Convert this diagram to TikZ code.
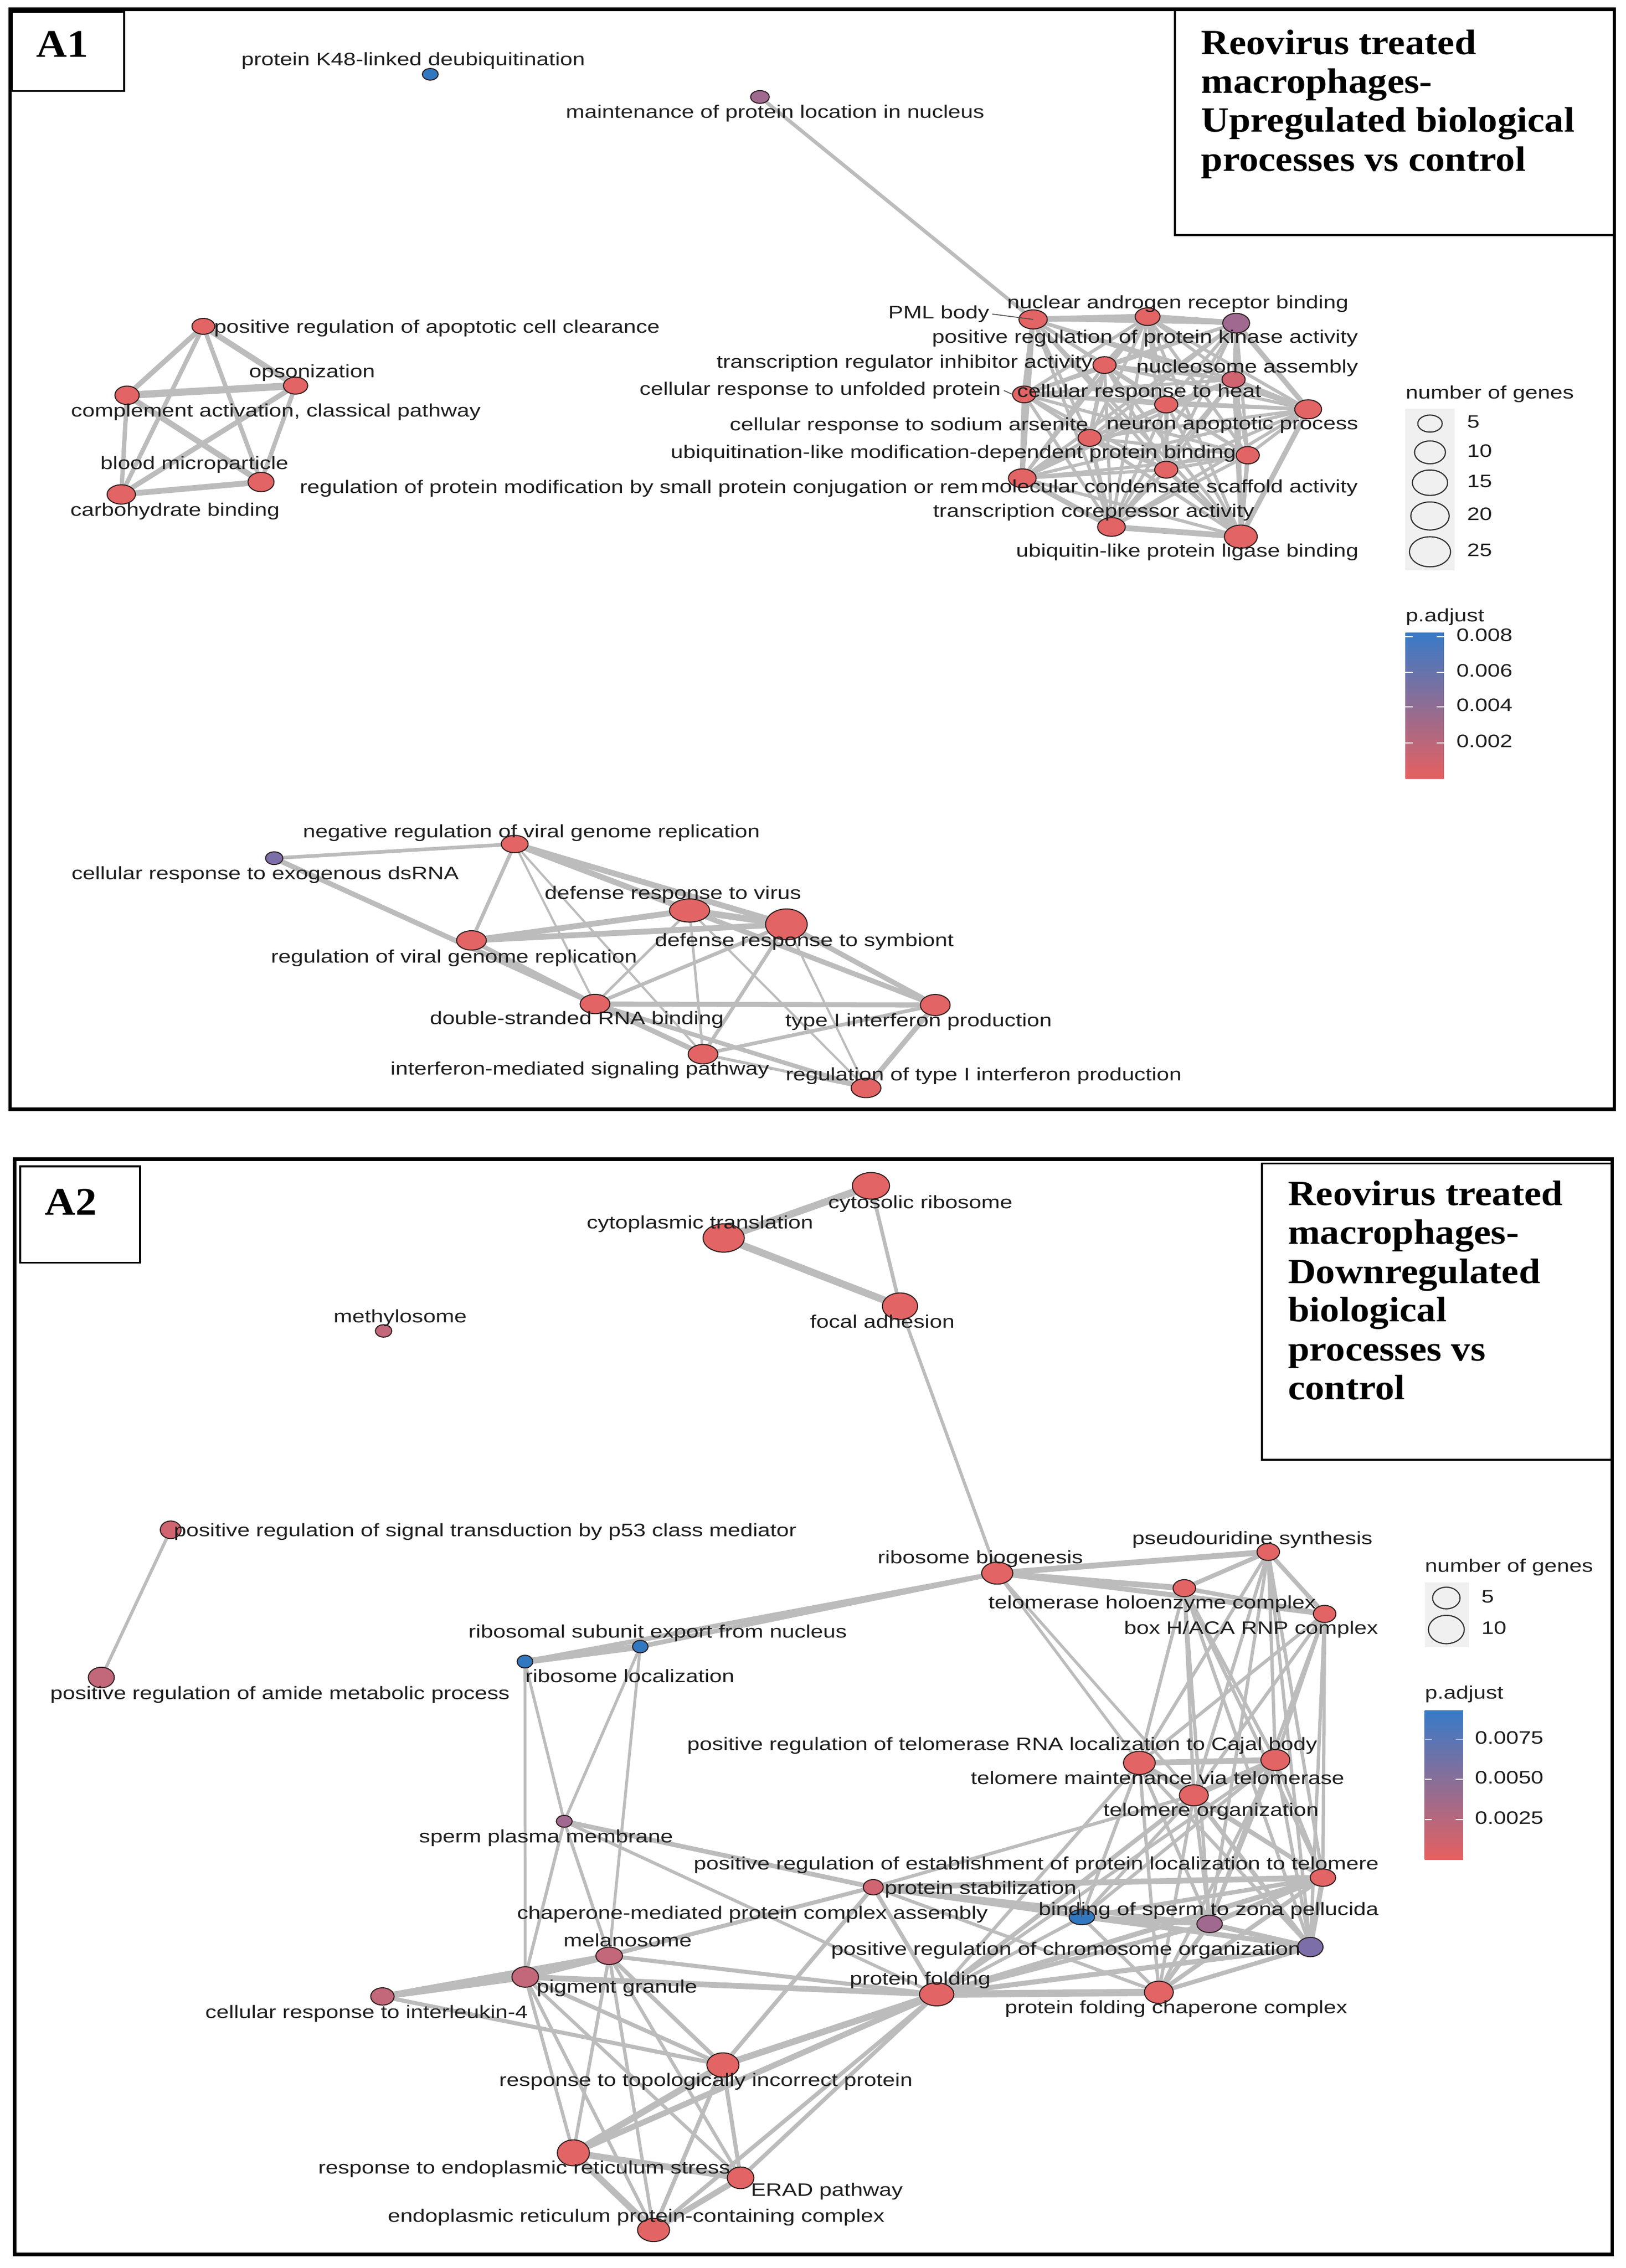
\documentclass[tikz,border=0pt]{standalone}
\usepackage{fontspec}
\newfontfamily\labfont[FakeStretch=1.24]{Liberation Sans}
\newfontfamily\ttlfont[FakeStretch=1.09]{Liberation Serif}
\usetikzlibrary{shapes.geometric}
\pgfdeclarelayer{edgelayer}
\pgfsetlayers{edgelayer,main}
\definecolor{cred}{RGB}{226,100,100}
\definecolor{credp}{RGB}{208,100,112}
\definecolor{cmauve}{RGB}{194,104,122}
\definecolor{cpurp}{RGB}{160,106,144}
\definecolor{cviol}{RGB}{124,110,168}
\definecolor{cblue}{RGB}{50,120,192}
\definecolor{edgegray}{RGB}{188,188,188}
\definecolor{txt}{RGB}{30,30,30}
\definecolor{keybg}{RGB}{240,240,240}
\definecolor{cbtop}{RGB}{56,122,200}
\definecolor{cbmid}{RGB}{152,108,146}
\definecolor{cbbot}{RGB}{230,96,96}
\newcounter{labc}
\newcommand\gn[6]{\node[gnode,fill=#6,minimum width=2*#4pt,minimum height=2*#5pt] (#1) at (#2,#3) {};}
\newcommand\lb[3]{\stepcounter{labc}\node[lab] (lab\thelabc) at (#1,#2) {#3};}
\begin{document}
\begin{tikzpicture}[x=1pt,y=-1pt,
 gnode/.style={ellipse,draw={rgb,255:red,45;green,30;blue,30},line width=0.7pt,inner sep=0pt,outer sep=0pt},
 lab/.style={font=\labfont\fontsize{12.5}{14}\selectfont,text=txt,inner sep=0pt,anchor=mid,yshift=-1.3pt},
 leg/.style={font=\labfont\fontsize{12.5}{14}\selectfont,text=txt,inner sep=0pt,anchor=mid west,yshift=-1pt},
 edge/.style={draw=edgegray,line cap=round},
 ttl/.style={font=\ttlfont\bfseries\fontsize{24.5}{27}\selectfont,inner sep=0pt,anchor=base west},
 plab/.style={font=\ttlfont\bfseries\fontsize{27}{30}\selectfont,inner sep=0pt,anchor=base},
 frame/.style={draw=black,line width=2.4pt},
 lbox/.style={draw=black,line width=1.4pt},
 lead/.style={draw=black!70,line width=0.6pt},
 legell/.style={draw=black!80,line width=0.8pt}]
\useasboundingbox (0,0) rectangle (1125,1569.3);

% ================= A1 nodes =================
\gn{k48}{297.7}{51.4}{5.5}{4.0}{cblue}
\gn{maint}{525.8}{67.1}{6.5}{4.4}{cpurp}
\gn{r1}{714.8}{221.0}{9.8}{6.6}{cred}
\gn{r2}{794.0}{219.1}{8.6}{6.1}{cred}
\gn{r3}{855.3}{223.6}{9.3}{6.8}{cpurp}
\gn{r4}{764.2}{252.6}{8.0}{5.8}{cred}
\gn{r5}{853.5}{262.6}{8.0}{5.6}{credp}
\gn{r6}{708.6}{272.9}{8.0}{5.8}{cred}
\gn{r7}{806.9}{279.9}{8.0}{5.8}{cred}
\gn{r8}{905.1}{283.2}{9.3}{6.6}{cred}
\gn{r9}{753.9}{303.0}{8.0}{5.8}{cred}
\gn{r10}{863.3}{315.0}{8.0}{6.0}{cred}
\gn{r11}{806.9}{325.0}{8.0}{5.8}{cred}
\gn{r12}{707.3}{330.9}{9.6}{6.5}{cred}
\gn{r13}{769.0}{364.6}{9.6}{6.5}{cred}
\gn{r14}{858.5}{371.3}{11.4}{8.0}{cred}
\gn{l1}{140.7}{225.8}{7.9}{5.5}{cred}
\gn{l2}{204.5}{266.8}{8.4}{5.9}{cred}
\gn{l3}{87.9}{273.5}{8.4}{6.4}{cred}
\gn{l4}{180.6}{333.5}{9.0}{6.7}{cred}
\gn{l5}{83.9}{342.1}{9.8}{6.7}{cred}
\gn{b1}{356.1}{584.0}{9.3}{6.0}{cred}
\gn{b2}{189.7}{593.8}{6.0}{4.4}{cviol}
\gn{b3}{477.1}{630.0}{13.9}{8.0}{cred}
\gn{b4}{544.1}{639.6}{14.4}{10.7}{cred}
\gn{b5}{326.2}{650.7}{10.3}{6.7}{cred}
\gn{b6}{411.7}{694.7}{10.3}{6.7}{cred}
\gn{b7}{647.1}{695.4}{10.3}{7.3}{cred}
\gn{b8}{486.4}{729.4}{10.3}{6.7}{cred}
\gn{b9}{599.2}{752.8}{10.3}{6.7}{cred}

% ================= A2 nodes =================
\gn{c1}{602.6}{820.5}{12.9}{9.2}{cred}
\gn{c2}{500.7}{856.6}{14.3}{9.8}{cred}
\gn{c3}{622.7}{903.8}{12.2}{9.2}{cred}
\gn{meth}{265.4}{920.9}{5.7}{4.3}{cmauve}
\gn{p53}{118.1}{1058.5}{7.2}{6.1}{credp}
\gn{amide}{70.1}{1160.7}{9.0}{7.1}{cmauve}
\gn{rbio}{690.0}{1088.5}{10.8}{7.6}{cred}
\gn{pseudo}{877.5}{1073.8}{7.8}{5.9}{cred}
\gn{tholo}{819.4}{1098.9}{7.8}{5.9}{cred}
\gn{hbox}{916.5}{1116.7}{7.8}{5.9}{cred}
\gn{rexp}{443.0}{1139.3}{5.4}{4.3}{cblue}
\gn{rloc}{363.2}{1149.7}{5.4}{4.4}{cblue}
\gn{t1}{788.3}{1219.8}{11.0}{8.0}{cred}
\gn{t2}{882.4}{1217.8}{10.0}{7.3}{cred}
\gn{torg}{826.0}{1242.2}{10.0}{7.3}{cred}
\gn{estab}{915.3}{1299.2}{8.8}{6.0}{cred}
\gn{stab}{604.2}{1305.8}{6.9}{5.3}{credp}
\gn{bind}{748.5}{1326.5}{8.8}{5.3}{cblue}
\gn{purp}{836.9}{1331.2}{8.8}{6.0}{cpurp}
\gn{chromo}{906.6}{1347.2}{8.8}{6.7}{cviol}
\gn{pfold}{648.1}{1379.9}{11.9}{8.0}{cred}
\gn{pfcc}{801.8}{1378.5}{10.0}{7.7}{cred}
\gn{sperm}{390.4}{1260.2}{5.5}{4.1}{cpurp}
\gn{melan}{421.5}{1353.3}{9.2}{6.0}{cmauve}
\gn{pigm}{363.4}{1367.9}{9.2}{7.1}{cmauve}
\gn{il4}{264.6}{1381.4}{8.1}{6.0}{cmauve}
\gn{topo}{500.2}{1428.8}{11.1}{8.4}{cred}
\gn{erstress}{396.7}{1489.6}{11.1}{9.0}{cred}
\gn{erad}{512.4}{1506.9}{9.2}{7.5}{cred}
\gn{ercomp}{452.2}{1543.0}{11.1}{8.0}{cred}

% ================= edges =================
\begin{pgfonlayer}{edgelayer}
\fill[white] (0,0) rectangle (1125,1569.3);
\draw[edge,line width=2.5pt] (maint.center) -- (r1.center);
\foreach \i in {1,...,13}{\pgfmathtruncatemacro\ip{\i+1}\foreach \j in {\ip,...,14}{\draw[edge,line width=2.2pt] (r\i.center) -- (r\j.center);}}
\foreach \a/\b/\w in {r1/r2/4,r2/r3/4,r3/r8/3.5,r8/r14/3.5,r14/r13/4,r13/r12/3.5,r12/r6/3.5,r6/r1/3.5,r2/r4/3,r4/r7/3,r7/r11/3,r11/r14/3,r9/r13/3,r10/r14/3,r5/r8/3,r3/r14/3,r1/r12/3,r4/r9/3}
  {\draw[edge,line width=\w pt] (\a.center) -- (\b.center);}
\foreach \a/\b/\w in {l1/l3/3.5,l1/l2/4,l1/l5/3,l1/l4/3,l3/l2/5,l3/l4/4,l3/l5/3,l2/l5/3.5,l2/l4/3,l5/l4/4}
  {\draw[edge,line width=\w pt] (\a.center) -- (\b.center);}
\foreach \a/\b/\w in {b2/b1/2.5,b2/b6/3.5,b5/b6/3,b1/b5/2.5,b1/b3/4,b1/b4/4,b1/b6/1.5,b1/b8/1.5,b5/b3/4,b5/b4/4,b3/b4/4.5,b3/b6/1.8,b3/b8/1.8,b3/b7/3.5,b3/b9/1.5,b4/b6/2.5,b4/b8/2.5,b4/b7/3.5,b4/b9/1.5,b6/b7/3.5,b6/b8/3.5,b6/b9/3,b8/b7/2.5,b8/b9/2,b7/b9/3.5}
  {\draw[edge,line width=\w pt] (\a.center) -- (\b.center);}
\foreach \a/\b/\w in {c1/c2/5,c2/c3/5,c1/c3/2.5,c3/rbio/2.2,p53/amide/2.2,
rloc/rexp/4.5,rloc/rbio/3.2,rexp/rbio/3.2,rloc/sperm/2,rexp/sperm/2,rloc/pigm/2,rexp/melan/2,
rbio/pseudo/4,rbio/tholo/4,rbio/hbox/3.5,pseudo/tholo/3,pseudo/hbox/3,tholo/hbox/3,
rbio/t1/2,rbio/torg/2,
pseudo/t1/2.3,pseudo/t2/2.3,pseudo/torg/2.3,pseudo/estab/2.3,pseudo/chromo/2.3,pseudo/purp/2.3,
tholo/t1/2.3,tholo/t2/2.3,tholo/torg/2.3,tholo/estab/2.3,tholo/chromo/2.3,tholo/purp/2.3,
hbox/t1/2.3,hbox/t2/2.3,hbox/torg/2.3,hbox/estab/2.3,hbox/chromo/2.3,hbox/purp/2.3,
t1/t2/4,t1/torg/4,t2/torg/4,t1/estab/2.3,t2/estab/2.3,torg/estab/3,t1/purp/2.3,t2/purp/2.3,torg/purp/2.3,t1/chromo/2.3,t2/chromo/2.3,torg/chromo/3,t1/pfcc/2.3,t2/pfcc/2.3,torg/pfcc/2.3,t1/bind/2.3,t2/bind/2.3,torg/bind/2.3,
estab/chromo/3.5,estab/purp/3.5,purp/chromo/3.5,bind/purp/3.5,bind/chromo/3,bind/estab/3,pfcc/purp/3,pfcc/chromo/3,pfcc/estab/3,pfcc/bind/2.3,
pfold/pfcc/5,pfold/torg/3,pfold/t1/2.3,pfold/t2/2.3,pfold/estab/3.5,pfold/chromo/3.5,pfold/purp/3,pfold/bind/2.3,
stab/pfold/2.8,stab/estab/4,stab/chromo/3.5,stab/torg/2.3,stab/purp/3,stab/bind/2.3,stab/pfcc/2.3,stab/sperm/3.2,stab/pigm/2.8,stab/melan/2.3,stab/topo/2.8,
sperm/pigm/2.2,sperm/melan/2.2,sperm/pfold/2.2,
pigm/melan/4.5,pigm/il4/4.5,melan/il4/4,il4/topo/2.8,pigm/pfold/4,melan/pfold/2.8,pigm/topo/2.8,melan/topo/2.8,
pigm/erstress/2.3,pigm/erad/2.3,pigm/ercomp/2.3,melan/erstress/2.3,melan/erad/2.3,melan/ercomp/2.3,
topo/erstress/4.5,topo/erad/2.8,topo/ercomp/2.8,erstress/erad/4.5,erstress/ercomp/4.5,erad/ercomp/4,
pfold/topo/4.5,pfold/erstress/4,pfold/erad/2.8,pfold/ercomp/2.8}
  {\draw[edge,line width=\w pt] (\a.center) -- (\b.center);}
\end{pgfonlayer}

% ================= A1 labels =================
\lb{285.9}{41.8}{protein K48-linked deubiquitination}
\lb{536.3}{78.3}{maintenance of protein location in nucleus}
\node[lab,anchor=mid east] (pmllab) at (684.6,217.1) {PML body};
\draw[lead] ([xshift=2pt]pmllab.east) -- (r1.center);
\lb{814.9}{210}{nuclear androgen receptor binding}
\lb{792.2}{233.9}{positive regulation of protein kinase activity}
\lb{625.9}{251.3}{transcription regulator inhibitor activity}
\lb{862.9}{254.5}{nucleosome assembly}
\node[lab,anchor=mid east] (unflab) at (692.6,270) {cellular response to unfolded protein};
\draw[lead] ([xshift=2pt]unflab.east) -- (r6.west);
\lb{788.2}{271.2}{cellular response to heat}
\lb{629}{294.4}{cellular response to sodium arsenite}
\lb{852.7}{293.8}{neuron apoptotic process}
\lb{659.7}{313.7}{ubiquitination-like modification-dependent protein binding}
\lb{442.2}{337.7}{regulation of protein modification by small protein conjugation or rem}
\lb{809.1}{337.6}{molecular condensate scaffold activity}
\lb{756.7}{354.3}{transcription corepressor activity}
\lb{821.5}{382}{ubiquitin-like protein ligase binding}
\lb{302.3}{227}{positive regulation of apoptotic cell clearance}
\lb{215.9}{257.6}{opsonization}
\lb{190.9}{284.9}{complement activation, classical pathway}
\lb{134.5}{321.3}{blood microparticle}
\lb{121.1}{353.7}{carbohydrate binding}
\lb{367.7}{576}{negative regulation of viral genome replication}
\lb{183.5}{605}{cellular response to exogenous dsRNA}
\lb{465.6}{618.7}{defense response to virus}
\lb{556.5}{651.4}{defense response to symbiont}
\lb{314.1}{662.7}{regulation of viral genome replication}
\lb{399.1}{705.4}{double-stranded RNA binding}
\lb{635.6}{706.7}{type I interferon production}
\lb{401.2}{740.1}{interferon-mediated signaling pathway}
\lb{680.6}{744.1}{regulation of type I interferon production}

% ================= A2 labels =================
\lb{636.8}{832.8}{cytosolic ribosome}
\lb{484.3}{846.9}{cytoplasmic translation}
\lb{610.5}{915.4}{focal adhesion}
\lb{276.9}{911.7}{methylosome}
\lb{335.7}{1059.7}{positive regulation of signal transduction by p53 class mediator}
\lb{193.7}{1172.3}{positive regulation of amide metabolic process}
\lb{678.3}{1078.3}{ribosome biogenesis}
\lb{866.5}{1065.2}{pseudouridine synthesis}
\lb{797.2}{1109.7}{telomerase holoenzyme complex}
\lb{865.6}{1127.1}{box H/ACA RNP complex}
\lb{455}{1129.7}{ribosomal subunit export from nucleus}
\lb{435.8}{1160.7}{ribosome localization}
\lb{693.4}{1207.8}{positive regulation of telomerase RNA localization to Cajal body}
\lb{800.9}{1231.1}{telomere maintenance via telomerase}
\lb{837.9}{1253.1}{telomere organization}
\lb{377.8}{1271.4}{sperm plasma membrane}
\lb{717}{1290.2}{positive regulation of establishment of protein localization to telomere}
\node[lab] (stablab) at (678.5,1307.2) {protein stabilization};
\draw[lead] ([xshift=1.5pt]stablab.east) -- (bind.center);
\lb{836.2}{1321.8}{binding of sperm to zona pellucida}
\lb{520.6}{1324.4}{chaperone-mediated protein complex assembly}
\lb{434.3}{1343.5}{melanosome}
\lb{737.4}{1349.2}{positive regulation of chromosome organization}
\lb{636.7}{1369.9}{protein folding}
\lb{426.9}{1375.4}{pigment granule}
\lb{813.8}{1389.9}{protein folding chaperone complex}
\lb{253.6}{1393.2}{cellular response to interleukin-4}
\lb{488.4}{1440}{response to topologically incorrect protein}
\lb{362.7}{1500.5}{response to endoplasmic reticulum stress}
\lb{572.1}{1516.2}{ERAD pathway}
\lb{440.2}{1534.2}{endoplasmic reticulum protein-containing complex}

% ================= legends =================
\node[leg] (ngA) at (972.4,272.6) {number of genes};
\fill[keybg] (972.4,282.7) rectangle (1006.3,394.6);
\draw[legell] (989.4,293.1) ellipse [x radius=8.45, y radius=5.9];
\draw[legell] (989.4,313.0) ellipse [x radius=10.7, y radius=7.9];
\draw[legell] (989.4,334.0) ellipse [x radius=12.2, y radius=8.8];
\draw[legell] (989.4,357.0) ellipse [x radius=13.3, y radius=9.7];
\draw[legell] (989.4,381.8) ellipse [x radius=14.2, y radius=10.4];
\node[leg] (nA1) at (1014.9,293.1) {5};
\node[leg] (nA2) at (1014.9,313.0) {10};
\node[leg] (nA3) at (1014.9,334.0) {15};
\node[leg] (nA4) at (1014.9,357.0) {20};
\node[leg] (nA5) at (1014.9,381.8) {25};
\node[leg] (paA) at (972.4,426.8) {p.adjust};
\shade[top color=cbtop,middle color=cbmid,bottom color=cbbot] (972.4,437.8) rectangle (999.1,538.7);
\foreach \yy in {440.5,465.3,489.2,514}{\draw[white,line width=0.7pt] (972.4,\yy) -- (977.4,\yy) (994.1,\yy) -- (999.1,\yy);}
\node[leg] (tA1) at (1007.5,440.5) {0.008};
\node[leg] (tA2) at (1007.5,465.3) {0.006};
\node[leg] (tA3) at (1007.5,489.2) {0.004};
\node[leg] (tA4) at (1007.5,514) {0.002};

\node[leg] (ngB) at (985.7,1084.6) {number of genes};
\fill[keybg] (985.7,1095) rectangle (1016.2,1139.6);
\draw[legell] (1000.7,1105.7) ellipse [x radius=9.5, y radius=7.5];
\draw[legell] (1000.7,1127.5) ellipse [x radius=12.4, y radius=9.8];
\node[leg] (nB1) at (1024.8,1105.7) {5};
\node[leg] (nB2) at (1024.8,1127.5) {10};
\node[leg] (paB) at (985.7,1172.5) {p.adjust};
\shade[top color=cbtop,middle color=cbmid,bottom color=cbbot] (985.7,1183.6) rectangle (1012.2,1286.9);
\foreach \yy in {1203.4,1231.2,1258.9}{\draw[white,line width=0.7pt] (985.7,\yy) -- (990.7,\yy) (1007.2,\yy) -- (1012.2,\yy);}
\node[leg] (tB1) at (1020.3,1203.4) {0.0075};
\node[leg] (tB2) at (1020.3,1231.2) {0.0050};
\node[leg] (tB3) at (1020.3,1258.9) {0.0025};

% ================= frames and titles =================
\draw[frame] (7,6.5) rectangle (1117,767.5);
\draw[lbox] (8,8) rectangle (86,63);
\node[plab] (A1lab) at (43,39.3) {A1};
\draw[lbox] (813,7) rectangle (1117,162.7);
\node[ttl] (tA1a) at (831,37.5) {Reovirus treated};
\node[ttl] (tA1b) at (831,64.3) {macrophages-};
\node[ttl] (tA1c) at (831,91.1) {Upregulated biological};
\node[ttl] (tA1d) at (831,118.3) {processes vs control};

\draw[frame] (10,802) rectangle (1115.5,1560);
\draw[lbox] (14,807) rectangle (97,873.7);
\node[plab] (A2lab) at (49,840.7) {A2};
\draw[lbox] (873,805) rectangle (1115.5,1010);
\node[ttl] (tB1a) at (891,834) {Reovirus treated};
\node[ttl] (tB1b) at (891,861) {macrophages-};
\node[ttl] (tB1c) at (891,888) {Downregulated};
\node[ttl] (tB1d) at (891,914.5) {biological};
\node[ttl] (tB1e) at (891,941.5) {processes vs};
\node[ttl] (tB1f) at (891,968.5) {control};
\end{tikzpicture}
\end{document}
